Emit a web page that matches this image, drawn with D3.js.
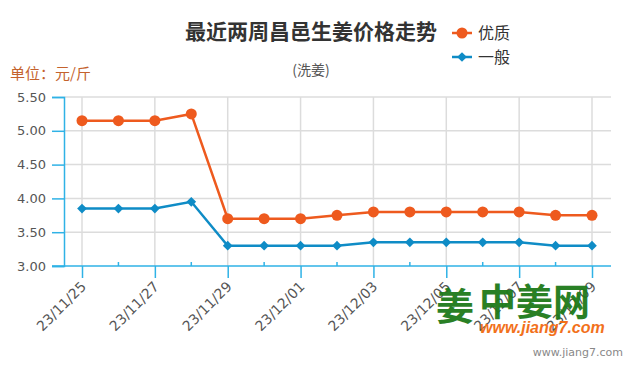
<!DOCTYPE html>
<html>
<head>
<meta charset="utf-8">
<script src="https://cdn.jsdelivr.net/npm/d3@7"></script>
<style>
  body { margin: 0; background: #fff; }
  svg { font-family: "DejaVu Sans", "Noto Sans CJK SC", sans-serif; }
</style>
</head>
<body>
<div id="chart"></div>
<script>
// chart data
var dates = ['23/11/25','23/11/26','23/11/27','23/11/28','23/11/29','23/11/30','23/12/01',
             '23/12/02','23/12/03','23/12/04','23/12/05','23/12/06','23/12/07','23/12/08','23/12/09'];
var premium = [5.15, 5.15, 5.15, 5.25, 3.70, 3.70, 3.70, 3.75, 3.80, 3.80, 3.80, 3.80, 3.80, 3.75, 3.75];
var common  = [3.85, 3.85, 3.85, 3.95, 3.30, 3.30, 3.30, 3.30, 3.35, 3.35, 3.35, 3.35, 3.35, 3.30, 3.30];
var yTicks = [3.00, 3.50, 4.00, 4.50, 5.00, 5.50];
var seriesNames = ['优质', '一般'];

var width = 635, height = 375;
var margin = { top: 97, right: 24, bottom: 109, left: 64 };

var svg = d3.select('#chart').append('svg')
  .attr('width', width)
  .attr('height', height);

var x = d3.scalePoint()
  .domain(dates)
  .range([82, 592]);

var y = d3.scaleLinear()
  .domain([3, 5.5])
  .range([height - margin.bottom, margin.top]);

var axisColor = '#2fb2e6';
var gridColor = '#dcdcdc';
var orange = '#ee5a1e';
var blue = '#0f8cc6';
var cjk = 'Noto Sans CJK SC, sans-serif';

// horizontal grid
svg.append('g')
  .selectAll('line')
  .data(yTicks.slice(1))
  .enter().append('line')
  .attr('x1', margin.left)
  .attr('x2', width - margin.right)
  .attr('y1', function(d){ return y(d); })
  .attr('y2', function(d){ return y(d); })
  .attr('stroke', gridColor)
  .attr('stroke-width', 1.5);

// vertical grid at labelled dates
var labelled = dates.filter(function(d, i){ return i % 2 === 0; });
svg.append('g')
  .selectAll('line')
  .data(labelled)
  .enter().append('line')
  .attr('x1', function(d){ return x(d); })
  .attr('x2', function(d){ return x(d); })
  .attr('y1', margin.top)
  .attr('y2', y(3))
  .attr('stroke', gridColor)
  .attr('stroke-width', 1.5);

// y axis
var yAxis = d3.axisLeft(y)
  .tickValues(yTicks)
  .tickSize(12)
  .tickPadding(6)
  .tickFormat(d3.format('.2f'));

var gy = svg.append('g')
  .attr('transform', 'translate(' + margin.left + ',0)')
  .call(yAxis);
gy.select('.domain').attr('stroke', axisColor).attr('stroke-width', 1.5);
gy.selectAll('.tick line').attr('stroke', axisColor).attr('stroke-width', 1.5);
gy.selectAll('.tick text')
  .attr('fill', '#555')
  .style('font-size', '13px')
  .style('font-family', 'DejaVu Sans, sans-serif');

// x axis
var xAxis = d3.axisBottom(x)
  .tickValues(labelled)
  .tickSize(12)
  .tickSizeOuter(0)
  .tickPadding(4);

var gx = svg.append('g')
  .attr('transform', 'translate(0,' + y(3) + ')')
  .call(xAxis);
gx.select('.domain')
  .attr('d', 'M' + (margin.left - 12) + ',0H' + (width - margin.right))
  .attr('stroke', axisColor).attr('stroke-width', 1.5);
gx.selectAll('.tick line').attr('stroke', axisColor).attr('stroke-width', 1.5);
gx.selectAll('.tick text')
  .attr('fill', '#555')
  .style('font-size', '14px')
  .style('font-family', 'DejaVu Sans, sans-serif')
  .attr('text-anchor', 'end')
  .attr('x', 0).attr('y', 0)
  .attr('dy', '0.35em')
  .attr('transform', 'translate(1,18) rotate(-45)');

// small inner ticks for unlabelled dates
svg.append('g')
  .selectAll('line')
  .data(dates.filter(function(d, i){ return i % 2 === 1; }))
  .enter().append('line')
  .attr('x1', function(d){ return x(d); })
  .attr('x2', function(d){ return x(d); })
  .attr('y1', y(3))
  .attr('y2', y(3) - 4)
  .attr('stroke', axisColor)
  .attr('stroke-width', 1.5);

// lines
var line = d3.line()
  .x(function(d, i){ return x(dates[i]); })
  .y(function(d){ return y(d); });

svg.append('path')
  .datum(premium)
  .attr('d', line)
  .attr('fill', 'none')
  .attr('stroke', orange)
  .attr('stroke-width', 2.5);

svg.append('path')
  .datum(common)
  .attr('d', line)
  .attr('fill', 'none')
  .attr('stroke', blue)
  .attr('stroke-width', 2.5);

var circle = d3.symbol().type(d3.symbolCircle).size(95);
var diamond = d3.symbol().type(d3.symbolDiamond2).size(60);

svg.append('g')
  .selectAll('path')
  .data(premium)
  .enter().append('path')
  .attr('d', circle)
  .attr('transform', function(d, i){ return 'translate(' + x(dates[i]) + ',' + y(d) + ')'; })
  .attr('fill', orange);

svg.append('g')
  .selectAll('path')
  .data(common)
  .enter().append('path')
  .attr('d', diamond)
  .attr('transform', function(d, i){ return 'translate(' + x(dates[i]) + ',' + y(d) + ')'; })
  .attr('fill', blue);

// titles
svg.append('text')
  .attr('x', 311).attr('y', 39)
  .attr('text-anchor', 'middle')
  .attr('fill', '#333')
  .style('font-size', '21px')
  .style('font-weight', 'bold')
  .style('font-family', cjk)
  .text('最近两周昌邑生姜价格走势');

svg.append('text')
  .attr('x', 311).attr('y', 75)
  .attr('text-anchor', 'middle')
  .attr('fill', '#555')
  .style('font-size', '14px')
  .style('font-family', cjk)
  .text('(洗姜)');

svg.append('text')
  .attr('x', 10).attr('y', 79)
  .attr('fill', '#c4622d')
  .style('font-size', '15px')
  .style('font-family', cjk)
  .text('单位：元/斤');

// legend
var legend = svg.append('g')
  .selectAll('g')
  .data(seriesNames)
  .enter().append('g')
  .attr('transform', function(d, i){ return 'translate(452,' + (33 + i * 24) + ')'; });

legend.append('line')
  .attr('x1', 0).attr('x2', 20)
  .attr('stroke', function(d, i){ return i === 0 ? orange : blue; })
  .attr('stroke-width', 2.5);
legend.append('path')
  .attr('d', function(d, i){ return i === 0 ? circle() : diamond(); })
  .attr('transform', 'translate(10,0)')
  .attr('fill', function(d, i){ return i === 0 ? orange : blue; });
legend.append('text')
  .attr('x', 26).attr('y', 6)
  .attr('fill', '#333')
  .style('font-size', '16px')
  .style('font-family', cjk)
  .text(function(d){ return d; });

// watermark
var wm = svg.append('g').attr('opacity', 0.95);
wm.append('text')
  .attr('x', 436).attr('y', 320)
  .attr('fill', '#1e7a1a')
  .style('font-size', '38px')
  .style('font-weight', 'bold')
  .style('font-family', cjk)
  .text('姜');
wm.append('text')
  .attr('x', 479).attr('y', 316)
  .attr('fill', '#1e7a1a')
  .style('font-size', '37px')
  .style('font-weight', 'bold')
  .style('font-family', cjk)
  .text('中姜网');
wm.append('text')
  .attr('x', 480).attr('y', 333)
  .attr('fill', '#f26a10')
  .style('font-size', '16px')
  .style('font-weight', 'bold')
  .style('font-style', 'italic')
  .style('font-family', 'Liberation Sans, sans-serif')
  .text('www.jiang7.com');
svg.append('text')
  .attr('x', 623).attr('y', 356)
  .attr('text-anchor', 'end')
  .attr('fill', '#888')
  .style('font-size', '11px')
  .style('font-family', 'DejaVu Sans, sans-serif')
  .text('www.jiang7.com');
</script>
</body>
</html>
